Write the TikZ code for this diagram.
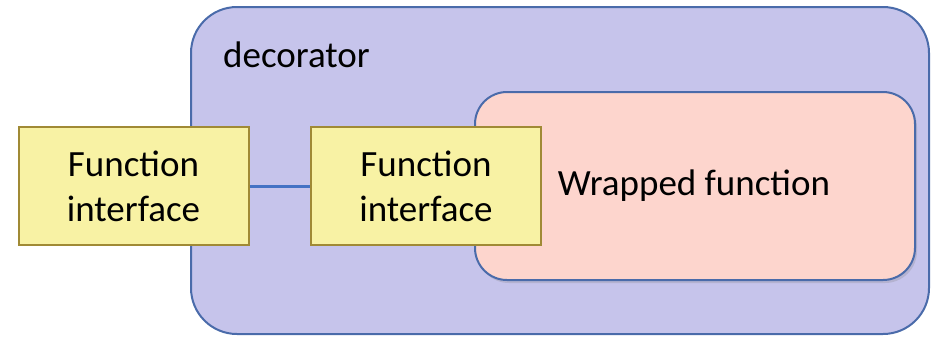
\documentclass[tikz,border=0pt]{standalone}
\usepackage{fontspec}
\setmainfont{Carlito}
\usetikzlibrary{shadows}
\definecolor{outerfill}{HTML}{C6C4EB}
\definecolor{blueline}{HTML}{4A6BAA}
\definecolor{pinkfill}{HTML}{FDD5CD}
\definecolor{yellowfill}{HTML}{F8F2A4}
\definecolor{yellowline}{HTML}{A08A35}
\definecolor{conn}{HTML}{4472C4}
\tikzset{
  every node/.style={font=\fontsize{37}{45}\selectfont, inner sep=0pt},
  outerbox/.style={draw=blueline, fill=outerfill, line width=2pt, rounded corners=46pt, minimum width=738pt, minimum height=327pt},
  wrapbox/.style={draw=blueline, fill=pinkfill, line width=2pt, rounded corners=32pt, minimum width=440pt, minimum height=188pt,
    drop shadow={shadow xshift=2pt, shadow yshift=-3pt, opacity=0.25}},
  ifacebox/.style={draw=yellowline, fill=yellowfill, line width=2pt, minimum width=230pt, minimum height=118pt, align=center},
  link/.style={draw=conn, line width=3pt}
}
\begin{document}
\begin{tikzpicture}[x=1pt, y=-1pt]
\useasboundingbox (0,0) rectangle (931,338);
\node[outerbox] (outer) at (560,170.5) {};
\node[anchor=base west] (deco) at (223,67) {decorator};
\node[ifacebox] (left) at (133.5,186) {Function\\interface};
\node[wrapbox] (wrap) at (695,186) {\hspace*{0pt}};
\node (wraptext) at (694,186) {Wrapped function};
\node[ifacebox] (mid) at (426,186) {Function\\interface};
\draw[link] (left.east) -- (mid.west);
\end{tikzpicture}
\end{document}
